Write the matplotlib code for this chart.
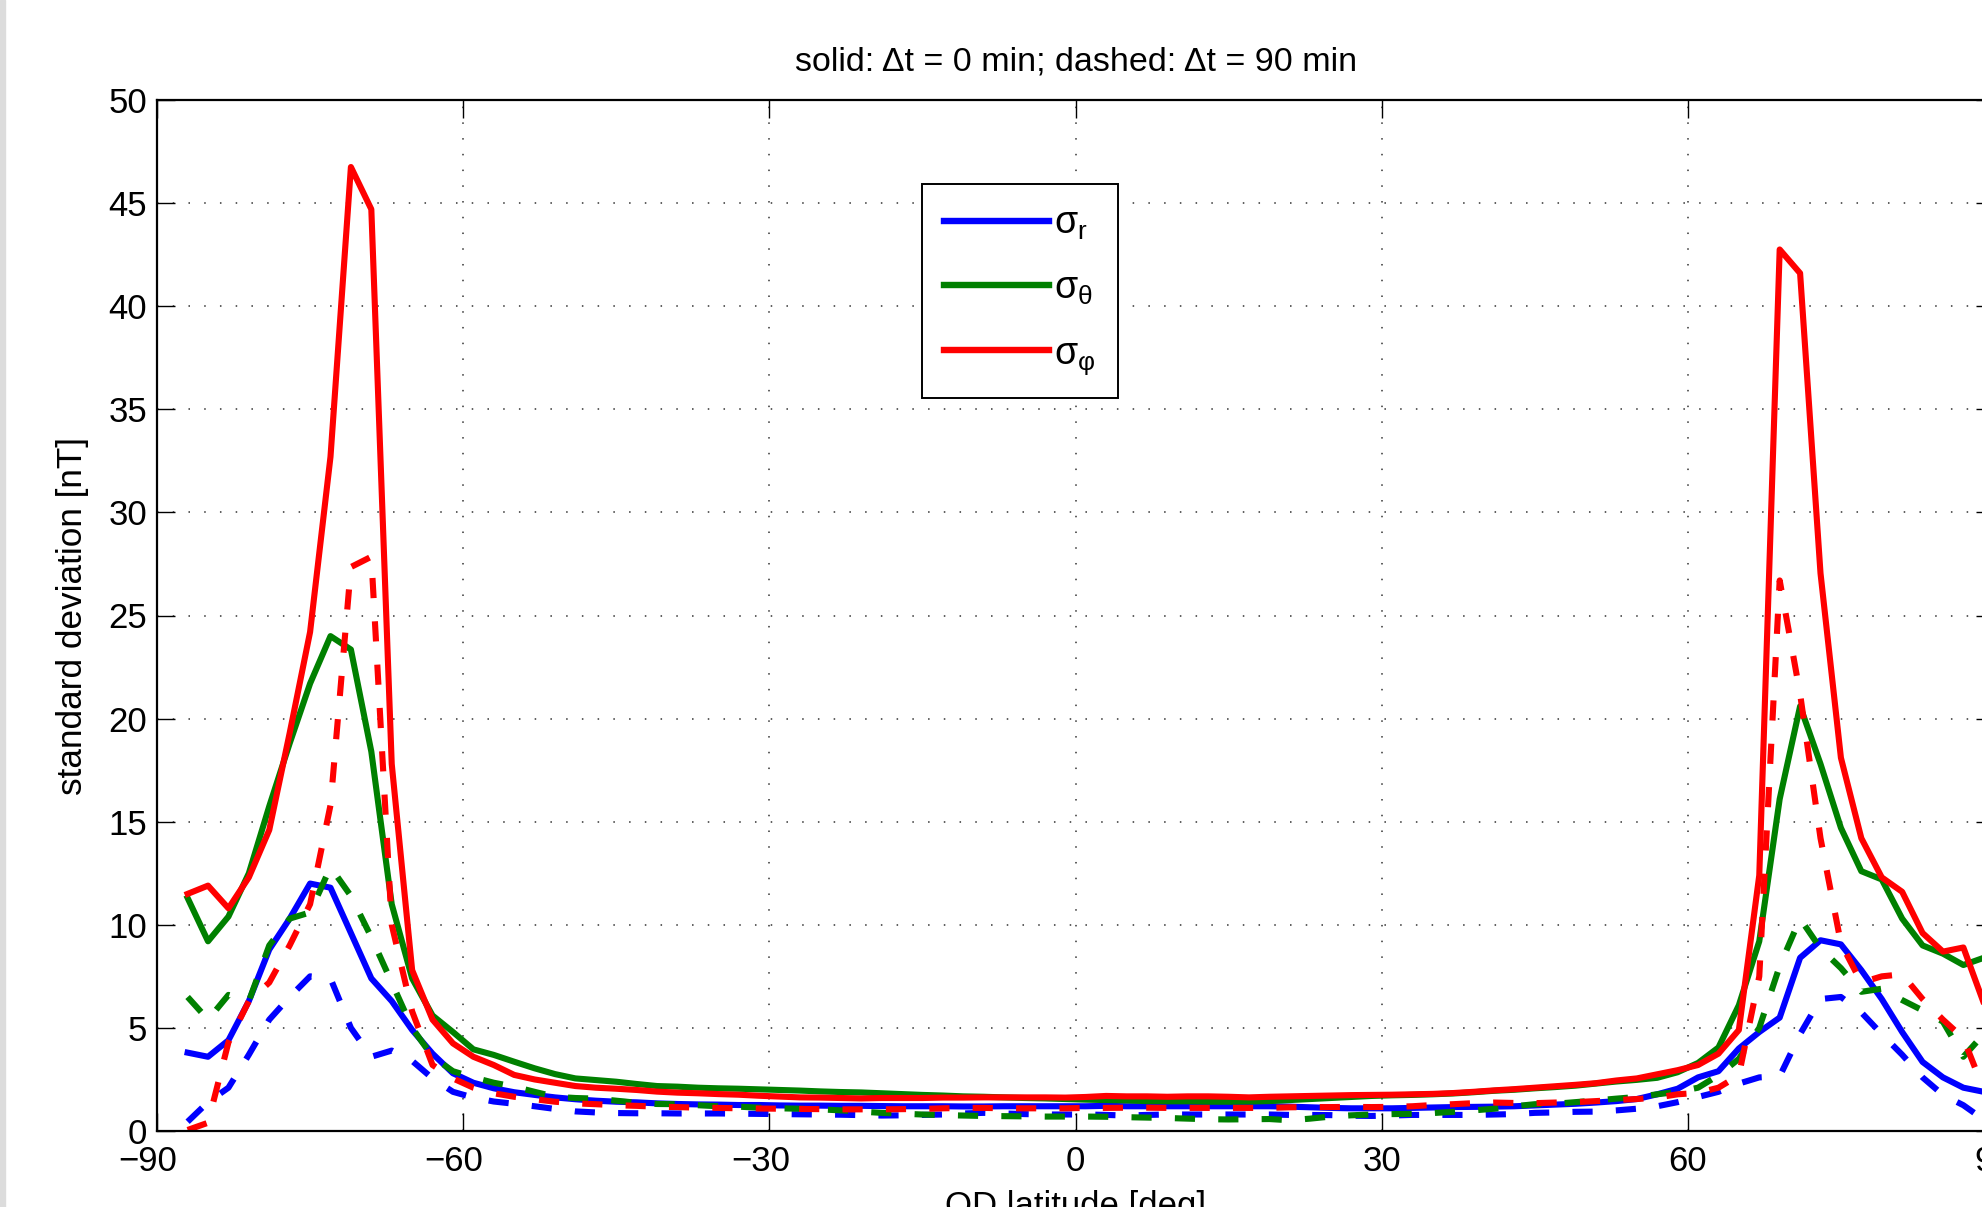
import numpy as np
import matplotlib
matplotlib.use("Agg")
import matplotlib.pyplot as plt
from matplotlib.patches import Rectangle
from matplotlib.transforms import ScaledTranslation

plt.rcParams['font.family'] = ['Liberation Sans', 'DejaVu Sans']
plt.rcParams['mathtext.default'] = 'regular'

# ---------------- data ----------------
lat = np.arange(-87, 90, 2)

sigma_r_0 = [3.8, 3.6, 4.4, 6.3, 8.8, 10.3, 12.0, 11.8, 9.6, 7.4, 6.3, 4.9, 3.75, 2.8,
             2.34, 2.07, 1.88, 1.75, 1.63, 1.54, 1.47, 1.42, 1.39, 1.34, 1.31, 1.29, 1.28, 1.26, 1.26, 1.24, 1.23, 1.23, 1.22, 1.22,
             1.21, 1.2, 1.2, 1.2, 1.19, 1.19, 1.2, 1.2, 1.2, 1.2,
             1.2, 1.22, 1.2, 1.2, 1.2, 1.2, 1.2, 1.2, 1.2, 1.2,
             1.18, 1.15, 1.12, 1.1, 1.1, 1.1, 1.12, 1.14, 1.16, 1.17, 1.18, 1.2, 1.24, 1.28, 1.32, 1.38, 1.45, 1.55, 1.78, 2.05,
             2.6, 2.9, 4.0, 4.8, 5.5, 8.4, 9.25, 9.05, 7.8, 6.4, 4.8, 3.35, 2.6, 2.1, 1.9]

sigma_t_0 = [11.3, 9.2, 10.4, 12.5, 15.75, 18.8, 21.7, 24.0, 23.35, 18.4, 11.0, 7.4, 5.6, 4.8,
             3.96, 3.69, 3.36, 3.04, 2.76, 2.55, 2.47, 2.39, 2.28, 2.18, 2.15, 2.1, 2.07, 2.05, 2.02, 1.99, 1.96, 1.92, 1.89, 1.87,
             1.83, 1.79, 1.75, 1.72, 1.68, 1.66, 1.63, 1.6, 1.58, 1.55,
             1.52, 1.5, 1.48, 1.45, 1.44, 1.44, 1.42, 1.42, 1.43, 1.45,
             1.5, 1.55, 1.6, 1.65, 1.7, 1.73, 1.75, 1.78, 1.82, 1.88, 1.95, 2.0, 2.07, 2.13, 2.2, 2.3, 2.4, 2.48, 2.58, 2.85,
             3.3, 4.05, 6.1, 9.2, 16.1, 20.6, 17.8, 14.7, 12.6, 12.2, 10.3, 9.0, 8.6, 8.05, 8.4]

sigma_p_0 = [11.5, 11.9, 10.8, 12.3, 14.6, 19.3, 24.2, 32.7, 46.75, 44.7, 17.8, 7.8, 5.4, 4.25,
             3.6, 3.2, 2.72, 2.5, 2.34, 2.18, 2.1, 2.05, 1.99, 1.91, 1.86, 1.83, 1.79, 1.76, 1.71, 1.67, 1.63, 1.62, 1.6, 1.58,
             1.6, 1.6, 1.6, 1.62, 1.62, 1.63, 1.63, 1.63, 1.63, 1.62,
             1.65, 1.7, 1.68, 1.68, 1.66, 1.68, 1.68, 1.66, 1.63, 1.66,
             1.68, 1.7, 1.72, 1.74, 1.75, 1.76, 1.78, 1.8, 1.84, 1.9, 1.97, 2.03, 2.1, 2.17, 2.24, 2.32, 2.45, 2.55, 2.75, 2.95,
             3.2, 3.75, 4.9, 12.4, 42.75, 41.6, 27.05, 18.1, 14.2, 12.3, 11.6, 9.6, 8.7, 8.9, 6.2]

sigma_r_90 = [0.45, 1.4, 2.1, 3.7, 5.4, 6.5, 7.5, 7.4, 5.0, 3.6, 3.9, 3.4, 2.55, 1.9,
              1.62, 1.43, 1.32, 1.2, 1.07, 0.95, 0.9, 0.87, 0.86, 0.86, 0.85, 0.85, 0.85, 0.84, 0.83, 0.82, 0.81, 0.8, 0.79, 0.77,
              0.75, 0.76, 0.78, 0.8, 0.85, 0.88, 0.85, 0.82, 0.8, 0.8,
              0.8, 0.78, 0.75, 0.78, 0.8, 0.8, 0.8, 0.8, 0.8, 0.8,
              0.78, 0.78, 0.77, 0.74, 0.73, 0.75, 0.78, 0.78, 0.78, 0.78, 0.8, 0.82, 0.88, 0.9, 0.93, 0.94, 1.0, 1.08, 1.2, 1.4,
              1.65, 1.9, 2.3, 2.6, 2.65, 4.7, 6.4, 6.5, 5.75, 4.7, 3.7, 2.6, 1.75, 1.25, 0.55]

sigma_t_90 = [6.5, 5.4, 6.6, 6.3, 9.0, 10.3, 10.6, 12.8, 11.4, 9.4, 7.2, 5.0, 3.6, 2.9,
              2.6, 2.34, 2.15, 1.9, 1.66, 1.6, 1.57, 1.47, 1.37, 1.31, 1.3, 1.25, 1.2, 1.18, 1.13, 1.1, 1.08, 1.05, 1.0, 0.94,
              0.88, 0.84, 0.8, 0.77, 0.75, 0.73, 0.72, 0.71, 0.7, 0.7,
              0.7, 0.69, 0.67, 0.65, 0.63, 0.6, 0.57, 0.56, 0.57, 0.58,
              0.52, 0.6, 0.7, 0.76, 0.8, 0.82, 0.83, 0.87, 0.93, 1.0, 1.08, 1.2, 1.3, 1.32, 1.4, 1.48, 1.57, 1.65, 1.78, 1.9,
              2.1, 2.7, 3.5, 5.0, 8.0, 10.3, 8.85, 7.9, 6.75, 6.9, 6.35, 5.85, 5.3, 3.6, 4.7]

sigma_p_90 = [0.05, 0.4, 4.3, 6.3, 7.2, 9.0, 11.0, 15.8, 27.35, 27.85, 10.0, 5.8, 3.2, 2.55,
              2.1, 1.83, 1.66, 1.54, 1.42, 1.34, 1.3, 1.25, 1.22, 1.18, 1.16, 1.13, 1.12, 1.1, 1.09, 1.08, 1.07, 1.06, 1.05, 1.05,
              1.05, 1.06, 1.07, 1.1, 1.12, 1.12, 1.1, 1.1, 1.1, 1.1,
              1.12, 1.12, 1.13, 1.13, 1.12, 1.12, 1.12, 1.12, 1.12, 1.12,
              1.15, 1.16, 1.16, 1.17, 1.16, 1.17, 1.2, 1.26, 1.3, 1.35, 1.38, 1.36, 1.35, 1.38, 1.4, 1.45, 1.5, 1.55, 1.62, 1.78,
              1.85, 2.1, 2.7, 7.5, 26.7, 21.2, 14.2, 9.1, 7.2, 7.5, 7.6, 6.4, 5.4, 4.5, 2.0]

labels = [r'$\sigma_r$', r'$\sigma_\theta$', r'$\sigma_\varphi$']
colors = ['#0000ff', '#008000', '#ff0000']
xticks = [-90, -60, -30, 0, 30, 60, 90]
yticks = list(range(0, 51, 5))
title = 'solid: \u0394t = 0 min; dashed: \u0394t = 90 min'
xlabel = 'QD latitude [deg]'
ylabel = 'standard deviation [nT]'

# ---------------- figure ----------------
W, H = 1982, 1207
fig = plt.figure(figsize=(W / 100, H / 100), dpi=100)
fig.patches.append(Rectangle((0, 0), 5 / W, 1, transform=fig.transFigure,
                             color='#dcdcdc', zorder=0))
ax = fig.add_axes([157 / W, (H - 1131) / H, (1994 - 157) / W, (1131 - 100) / H])

lw = 4.4
solid = [sigma_r_0, sigma_t_0, sigma_p_0]
dashed = [sigma_r_90, sigma_t_90, sigma_p_90]
handles = []
for y, c, lab in zip(solid, colors, labels):
    h, = ax.plot(lat, y, color=c, lw=lw, label=lab, solid_joinstyle='round')
    handles.append(h)
for y, c in zip(dashed, colors):
    ax.plot(lat, y, color=c, lw=lw, ls=(0, (3.3, 3.8)), dash_capstyle='butt')

ax.set_xlim(-90, 90)
ax.set_ylim(0, 50)
ax.set_xticks(xticks)
ax.set_yticks(yticks)
ax.grid(True, color='0.2', lw=1.1, ls=(0, (1, 9.3)))
ax.tick_params(direction='in', length=13, width=1.0, top=True, right=True,
               labelsize=25, colors='black')
ax.tick_params(axis='x', pad=10)
ax.tick_params(axis='y', pad=7)
for s in ax.spines.values():
    s.set_linewidth(1.6)

fig.canvas.draw()
shift = ScaledTranslation(-9 / 100, 0, fig.dpi_scale_trans)
for tv, lab in zip(ax.get_xticks(), ax.get_xticklabels()):
    if tv < 0:
        lab.set_transform(lab.get_transform() + shift)

fig.text(1076 / W, 1 - 62 / H, title, ha='center', va='center', fontsize=24.5)
fig.text(73 / W, 1 - 616 / H, ylabel, ha='center', va='center', rotation=90, fontsize=25.3)
fig.text(1076 / W, 1 - 1190 / H, xlabel, ha='center', va='top', fontsize=25)

leg = ax.legend(handles=handles, loc='upper left',
                bbox_to_anchor=((922 - 157) / 1837, (1131 - 184) / 1031),
                borderaxespad=0, fontsize=27, handlelength=2.8, handletextpad=0.15,
                labelspacing=0.76, borderpad=0.58, fancybox=False, framealpha=1,
                edgecolor='black')
leg.get_frame().set_linewidth(1.4)
for l in leg.get_lines():
    l.set_linewidth(4.6)

fig.savefig('out.png', dpi=100)
